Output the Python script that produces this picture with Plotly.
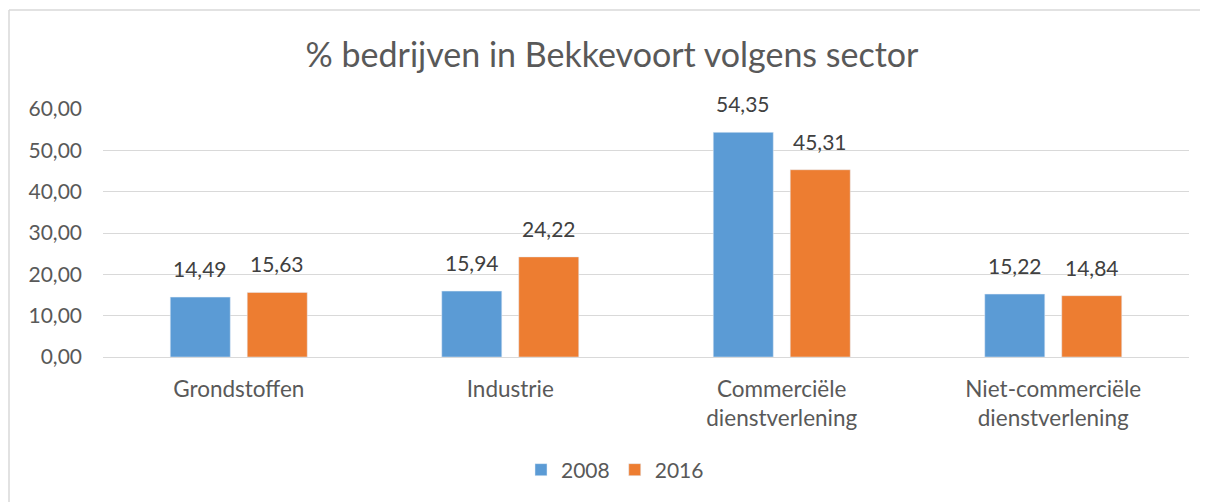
import plotly.graph_objects as go

categories = ["Grondstoffen", "Industrie", "Commerciële<br>dienstverlening", "Niet-commerciële<br>dienstverlening"]
series_names = ["2008", "2016"]
values_2008 = [14.49, 15.94, 54.35, 15.22]
values_2016 = [15.63, 24.22, 45.31, 14.84]
y_ticks = [0, 10, 20, 30, 40, 50, 60]

FONT = "Lato, Open Sans, sans-serif"
TXT = "#595959"
LBL = "#404040"
COLORS = ["#5B9BD5", "#ED7D31"]
OFF = 8  # page body margin

PL, PR, PT, PB = 103, 1189, 109, 357
W, H = 1208, 502
pw = PR - PL
ph = PB - PT

fig = go.Figure()
for name, vals, col in zip(series_names, [values_2008, values_2016], COLORS):
    fig.add_trace(go.Bar(name=name, x=categories, y=vals, marker_color=col))

# data labels (positioned from the data via axes)
slot = pw / len(categories) * (1 - 0.433) / 2
annotations = []
for i, vals in enumerate([values_2008, values_2016]):
    shift = (i - 0.5) * slot
    for c, v in zip(categories, vals):
        annotations.append(dict(x=c, y=v, xref="x", yref="y", text=f"{v:.2f}".replace(".", ","),
                                showarrow=False, xshift=shift, yshift=14, yanchor="bottom",
                                font=dict(size=21, color=LBL, family=FONT)))

fig.update_layout(
    width=W, height=H,
    margin=dict(l=PL - OFF, r=W + OFF - PR, t=PT - OFF, b=H + OFF - PB),
    paper_bgcolor="white", plot_bgcolor="white",
    separators=",.",
    barmode="group", bargap=0.433, bargroupgap=0.22,
    font=dict(family=FONT, color=TXT, size=21),
    title=dict(text="% bedrijven in Bekkevoort volgens sector", x=(612 - OFF) / W, xanchor="center",
               y=1 - (55 - OFF) / H, yref="container", yanchor="middle",
               font=dict(size=34, color=TXT, family=FONT)),
    legend=dict(orientation="h", x=(615 - PL) / pw, xanchor="center",
                y=-(470 - PB) / ph, yanchor="middle",
                font=dict(size=21, color=TXT), itemwidth=30, traceorder="normal"),
    xaxis=dict(showgrid=False, showline=True, linecolor="#d9d9d9", linewidth=1,
               tickfont=dict(size=22.5, color=TXT), ticklabelstandoff=12),
    yaxis=dict(range=[0, 60], tickvals=y_ticks, tickformat=".2f", showgrid=True,
               gridcolor="#d9d9d9", gridwidth=1, zeroline=False, showline=False,
               tickfont=dict(size=21, color=TXT), ticklabelstandoff=20),
    annotations=annotations,
    shapes=[
        dict(type="line", xref="paper", yref="paper", x0=(9 - PL) / pw, x1=(1220 - PL) / pw,
             y0=1 + (PT - 10) / ph, y1=1 + (PT - 10) / ph, line=dict(color="#d9d9d9", width=1.5)),
        dict(type="line", xref="paper", yref="paper", x0=(9 - PL) / pw, x1=(9 - PL) / pw,
             y0=1 + (PT - 10) / ph, y1=-(520 - PB) / ph, line=dict(color="#d9d9d9", width=1.5)),
    ],
)

fig.write_html("out.html")
